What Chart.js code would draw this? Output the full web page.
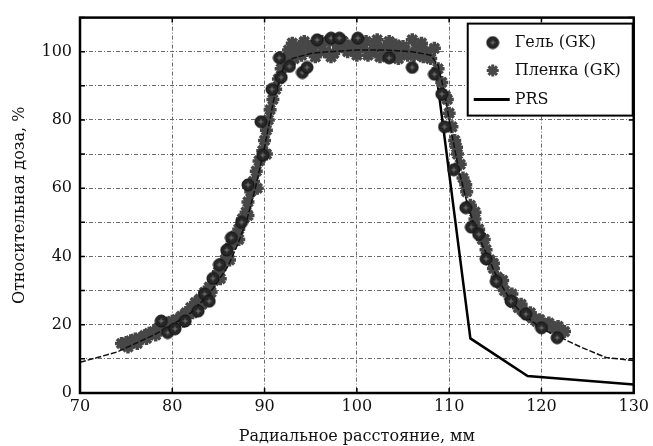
<!DOCTYPE html>
<html>
<head>
<meta charset="utf-8">
<script src="https://cdn.jsdelivr.net/npm/chart.js@4"></script>
<style>
  body { margin: 0; background: #fff; }
  canvas { display: block; }
</style>
</head>
<body>
<canvas id="myChart" width="653" height="446"></canvas>
<script>
// x ticks (mm) and y ticks (%)
const xTicks = [70, 80, 90, 100, 110, 120, 130];
const yTicks = [0, 20, 40, 60, 80, 100];

// Гель (GK) - circles
const gelX = [78.8, 79.5, 80.3, 81.4, 82.8, 83.5, 84, 84.4, 85.1, 85.9, 86.4, 87.5, 88.2, 89.8, 89.6, 90.8,
	91.6, 91.8, 92.7, 94.1, 94.6, 95.7, 97.2, 98.1, 100.1, 103.5, 106, 108.4, 109.2, 109.5,
	110.5, 111.8, 112.4, 113.2, 114, 115.1, 116.7, 118.3, 120, 121.7];
const gelY = [21.1, 17.7, 18.8, 21.1, 24, 29, 26.9, 33.6, 37.6, 41.9, 45.5, 50, 61, 69.7, 79.5, 89,
	98.2, 92.5, 95.7, 93.9, 95.4, 103.5, 104, 104, 104, 98.2, 95.4, 93.4, 87.6, 78,
	65.4, 54.3, 48.6, 46.5, 39.3, 32.7, 26.9, 23.1, 19.1, 16.2];

// Пленка (GK) - stars
const filmX = [74.5, 75, 75.5, 76, 76.5, 77, 77.5, 78, 78.5, 79, 79.5, 80, 80.5, 81, 81.5, 82, 82.5, 83,
	83.5, 84, 84.5, 85, 85.3, 85.7, 86, 86.4, 86.8, 87.2, 87.6, 88, 88.2, 88.5, 88.8, 89.1, 89.4,
	89.8, 90, 90.2, 90.4, 90.6, 90.9, 91.2, 91.5, 91.8, 92.2, 92.6, 93, 93.5, 94, 94.3, 95, 95.5,
	96, 96.5, 97, 97.5, 98, 98.5, 99, 99.5, 100, 100.5, 101, 101.5, 102, 102.5, 103, 103.5, 104,
	104.5, 105, 105.5, 106, 106.5, 107, 107.5, 108, 108.4, 108.8, 109.2, 109.6, 110, 110.3, 110.6,
	110.9, 111.2, 111.5, 111.9, 112.3, 112.8, 113.2, 113.6, 114, 114.4, 114.8, 115.2, 115.6, 116,
	116.5, 117, 117.5, 118, 118.5, 119, 119.5, 120, 120.5, 121, 121.5, 122, 122.5,
	// second, slightly offset row of the same band
	75.2, 76.2, 77.2, 78.2, 79.2, 80.2, 81.2, 82.2, 83.2, 84.2, 85.2, 86.2, 87.2, 88.2, 89.2, 90.2,
	93.2, 94.2, 95.2, 96.2, 97.2, 98.2, 99.2, 100.2, 101.2, 102.2, 103.2, 104.2, 105.2, 106.2, 107.2,
	109.8, 110.8, 111.8, 112.8, 113.8, 114.8, 115.8, 116.8, 117.8, 118.8, 119.8, 120.8, 121.8];
const filmY = [14.5, 14.8, 15.3, 15.8, 16, 16.8, 17.5, 18, 19, 19.5, 20.5, 21, 21.5, 22.5, 23.5, 25, 26.5, 27.5,
	29.5, 31, 33, 35.5, 37, 39, 41, 43.5, 46, 48, 51, 53, 56, 59, 62, 65, 68,
	71, 74, 77, 80, 83, 86, 89, 92, 95, 98, 100.5, 102.5, 101, 99, 103, 101.5, 98.5,
	102, 100, 103, 99.5, 101.5, 103, 100, 102, 99, 101.5, 103, 100, 102, 98.5, 101, 103, 100,
	98, 101.5, 99, 103.5, 101, 102.5, 100, 98, 101, 95, 91, 87, 82, 78, 74,
	70, 67, 63, 59, 55, 51, 48, 45, 42, 39, 36.5, 34, 32, 30,
	28.5, 26.5, 25, 24, 23, 22, 21, 20.5, 20, 19.5, 19, 18.5, 18,
	13.5, 14.5, 16, 17, 18.5, 19.5, 21, 23.5, 26, 29.5, 33.5, 39, 45, 52, 60, 70,
	98, 102, 100, 103, 98.5, 103.5, 101, 103, 99, 103.5, 100, 102, 100.5, 99, 98.5,
	86, 72, 61, 53, 45, 38, 33, 29, 26, 23.5, 21.5, 20.5, 19.5];

// PRS
const prsX = [76, 80, 84, 88, 90, 91, 92, 93, 95, 100, 105, 108, 108.5, 112.3, 118.5, 130];
const prsY = [14, 20, 29, 50, 72, 86, 95, 98, 99.5, 100.5, 100.2, 99.5, 96, 16, 5, 2.5];

// thin fitted curve through the measurements (not in legend)
const fitX = [70, 72, 74, 76, 78, 80, 82, 84, 86, 87, 88, 89, 90, 91, 92, 93, 95, 97, 100, 103, 106, 108,
	108.8, 109.5, 110, 111, 112, 113, 114, 115, 116, 117, 118, 119, 120, 121, 122, 122.8, 124.4, 127, 130];
const fitY = [9, 10.5, 12, 14.5, 17, 20, 23.5, 29, 37, 43, 50, 60, 72, 86, 95, 98, 99.5, 100, 100.5, 100.5, 100, 99,
	96, 88, 80, 66, 55, 47, 41, 35, 30, 26, 23, 21, 19, 17.5, 16.5, 15.3, 13.3, 10.4, 9.5];

const toPoints = (xs, ys) => xs.map((x, i) => ({x: x, y: ys[i]}));

// circle marker with a light cross inside
const gelDot = document.createElement('canvas');
gelDot.width = 14;
gelDot.height = 14;
let g = gelDot.getContext('2d');
g.fillStyle = '#262626';
g.beginPath();
g.arc(7, 7, 6, 0, 2 * Math.PI);
g.fill();
g.strokeStyle = '#111';
g.lineWidth = 1;
g.stroke();
g.strokeStyle = '#7a7a7a';
g.beginPath();
g.moveTo(4.5, 7); g.lineTo(9.5, 7);
g.moveTo(7, 4.5); g.lineTo(7, 9.5);
g.stroke();

const serif = "'DejaVu Serif', serif";
const starColor = '#474747';

// box around the plot + inward tick marks
const framePlugin = {
	id: 'frame',
	afterDraw(chart) {
		const {ctx, chartArea: a, scales} = chart;
		ctx.save();
		ctx.strokeStyle = '#000';
		ctx.lineWidth = 1.5;
		xTicks.forEach(v => {
			const px = scales.x.getPixelForValue(v);
			ctx.beginPath();
			ctx.moveTo(px, a.top); ctx.lineTo(px, a.top + 5);
			ctx.moveTo(px, a.bottom); ctx.lineTo(px, a.bottom - 5);
			ctx.stroke();
		});
		for (let v = 0; v <= 110; v += 10) {
			const py = scales.y.getPixelForValue(v);
			ctx.beginPath();
			ctx.moveTo(a.left, py); ctx.lineTo(a.left + 5, py);
			ctx.moveTo(a.right, py); ctx.lineTo(a.right - 5, py);
			ctx.stroke();
		}
		ctx.lineWidth = 2.5;
		ctx.strokeRect(a.left, a.top, a.right - a.left, a.bottom - a.top);
		ctx.restore();
	}
};

// legend box in the upper right corner of the plot
const legendPlugin = {
	id: 'boxLegend',
	afterDraw(chart) {
		const {ctx, chartArea: a} = chart;
		const sets = chart.data.datasets;
		const bx = a.right - 166, by = a.top + 6, bw = 165, bh = 92;
		ctx.save();
		ctx.fillStyle = '#fff';
		ctx.fillRect(bx, by, bw, bh);
		ctx.strokeStyle = '#000';
		ctx.lineWidth = 2;
		ctx.strokeRect(bx, by, bw, bh);
		const rows = [by + 19, by + 47, by + 76];
		// Гель
		ctx.drawImage(gelDot, bx + 18, rows[0] - 7);
		// Пленка
		ctx.strokeStyle = starColor;
		ctx.lineWidth = 3;
		Chart.helpers.drawPoint(ctx, {pointStyle: 'star', radius: 6, borderWidth: 3}, bx + 25, rows[1]);
		// PRS
		ctx.strokeStyle = '#000';
		ctx.lineWidth = 3;
		ctx.beginPath();
		ctx.moveTo(bx + 6, rows[2]); ctx.lineTo(bx + 42, rows[2]);
		ctx.stroke();
		ctx.fillStyle = '#111';
		ctx.font = '16px ' + serif;
		ctx.textBaseline = 'middle';
		for (let i = 0; i < 3; i++) {
			ctx.fillText(sets[i].label, bx + 47, rows[i]);
		}
		ctx.restore();
	}
};

const myChart = document.getElementById('myChart');

let profileChart = new Chart(myChart, {
	type: 'scatter',
	data: {
		datasets: [{
			label: 'Гель (GK)',
			data: toPoints(gelX, gelY),
			pointStyle: gelDot,
			order: 0
		}, {
			label: 'Пленка (GK)',
			data: toPoints(filmX, filmY),
			pointStyle: 'star',
			pointRadius: 6.5,
			borderWidth: 3.5,
			borderColor: starColor,
			backgroundColor: starColor,
			order: 2
		}, {
			label: 'PRS',
			data: toPoints(prsX, prsY),
			showLine: true,
			pointRadius: 0,
			borderColor: '#000',
			borderWidth: 2.5,
			order: 3
		}, {
			label: 'fit',
			data: toPoints(fitX, fitY),
			showLine: true,
			pointRadius: 0,
			borderColor: '#111',
			borderWidth: 1.5,
			borderDash: [6, 2],
			order: 1
		}]
	},
	options: {
		responsive: false,
		animation: false,
		events: [],
		layout: {
			padding: {left: 0, right: 19, top: 12, bottom: 0}
		},
		plugins: {
			legend: {display: false},
			tooltip: {enabled: false}
		},
		scales: {
			x: {
				type: 'linear',
				min: 70,
				max: 130,
				afterFit: (scale) => { scale.height = 53; },
				ticks: {
					stepSize: 10,
					color: '#111',
					padding: 4,
					font: {family: serif, size: 16}
				},
				grid: {
					color: '#6a6a6a',
					lineWidth: 1,
					drawTicks: false
				},
				border: {display: false, dash: [4, 2, 1, 2]},
				title: {
					display: true,
					text: 'Радиальное расстояние, мм',
					color: '#111',
					font: {family: serif, size: 16},
					padding: {top: 4, bottom: 0}
				}
			},
			y: {
				type: 'linear',
				min: 0,
				max: 110,
				afterFit: (scale) => { scale.width = 80; },
				ticks: {
					stepSize: 10,
					color: '#111',
					padding: 8,
					font: {family: serif, size: 16},
					callback: (v) => yTicks.includes(v) ? v : ''
				},
				grid: {
					color: '#6a6a6a',
					lineWidth: 1,
					drawTicks: false
				},
				border: {display: false, dash: [4, 2, 1, 2]},
				title: {
					display: true,
					text: 'Относительная доза, %',
					color: '#111',
					font: {family: serif, size: 16},
					padding: {top: 10, bottom: 0}
				}
			}
		}
	},
	plugins: [framePlugin, legendPlugin]
});
</script>
</body>
</html>
